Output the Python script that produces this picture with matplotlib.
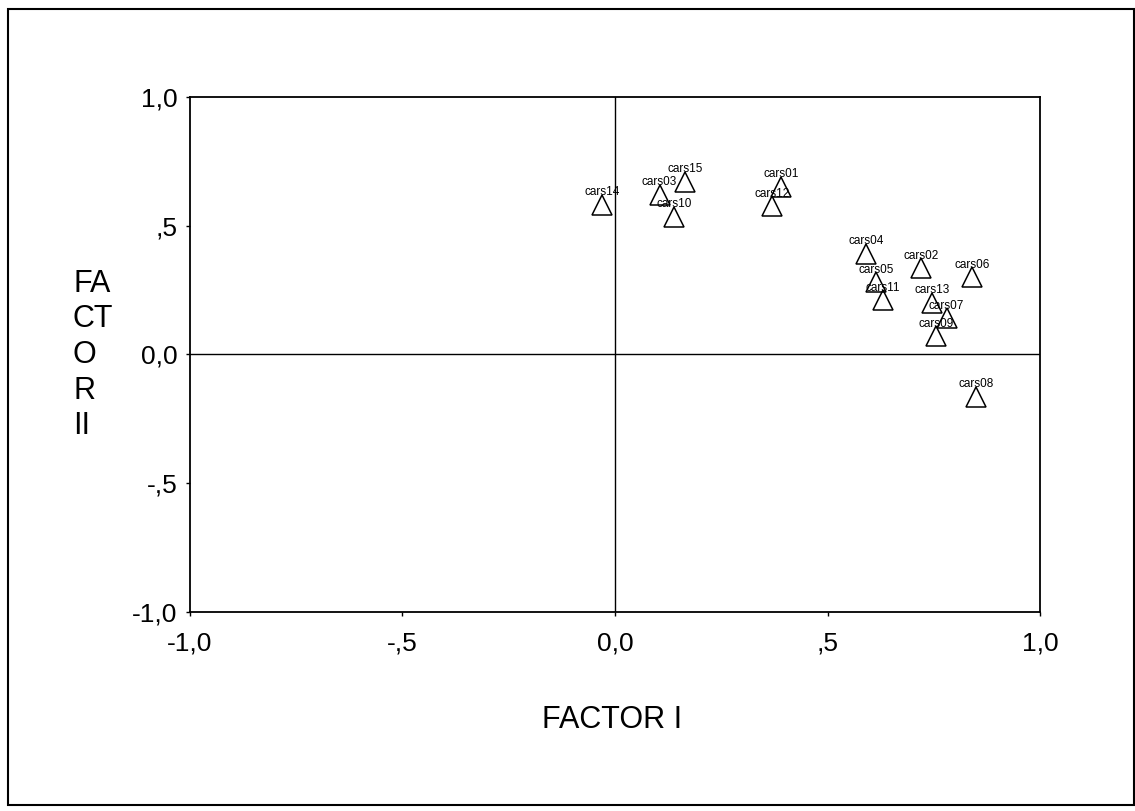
import matplotlib
matplotlib.use("Agg")
import matplotlib.pyplot as plt
from matplotlib.patches import Rectangle

plt.rcParams["font.family"] = ["Liberation Sans", "DejaVu Sans"]

# factor loadings
labels = ["cars14", "cars03", "cars15", "cars10", "cars01", "cars12",
          "cars04", "cars02", "cars06", "cars05", "cars11", "cars13",
          "cars07", "cars09", "cars08"]
factor1 = [-0.03, 0.105, 0.165, 0.14, 0.39, 0.37,
           0.59, 0.72, 0.84, 0.615, 0.63, 0.745,
           0.78, 0.755, 0.85]
factor2 = [0.58, 0.62, 0.67, 0.535, 0.65, 0.575,
           0.39, 0.335, 0.30, 0.28, 0.21, 0.20,
           0.14, 0.07, -0.165]

ticks = [-1.0, -0.5, 0.0, 0.5, 1.0]
tick_labels = ["-1,0", "-,5", "0,0", ",5", "1,0"]

fig = plt.figure(figsize=(11.35, 8.11), dpi=100)
# outer frame around the whole chart
fig.patches.append(Rectangle((0.007, 0.007), 0.992, 0.982, transform=fig.transFigure,
                             fill=False, edgecolor="black", linewidth=1.5))

ax = fig.add_axes([0.1674, 0.2454, 0.7489, 0.635])
ax.set_xlim(-1, 1)
ax.set_ylim(-1, 1)
ax.axhline(0, color="black", linewidth=1.0)
ax.axvline(0, color="black", linewidth=1.0)

ax.plot(factor1, factor2, linestyle="none", marker="^", markersize=14,
        markerfacecolor="none", markeredgecolor="black", markeredgewidth=1.1)
for name, x, y in zip(labels, factor1, factor2):
    ax.annotate(name, (x, y), xytext=(0, 7), textcoords="offset points",
                ha="center", va="baseline", fontsize=8.5)

ax.set_xticks(ticks)
ax.set_xticklabels(tick_labels)
ax.set_yticks(ticks)
ax.set_yticklabels(tick_labels)
ax.tick_params(axis="both", direction="out", length=3, width=1, labelsize=19)
ax.tick_params(axis="x", pad=11)
ax.tick_params(axis="y", pad=6)
for side in ax.spines.values():
    side.set_linewidth(1.3)

fig.text(612 / 1135, 1 - 720 / 811, "FACTOR I", ha="center", va="center", fontsize=22)
fig.text(73 / 1135, 1 - 355 / 811, "FA\nCT\nO\nR\nII", ha="left", va="center",
         fontsize=22, linespacing=1.24)

fig.savefig("out.png", dpi=100)
